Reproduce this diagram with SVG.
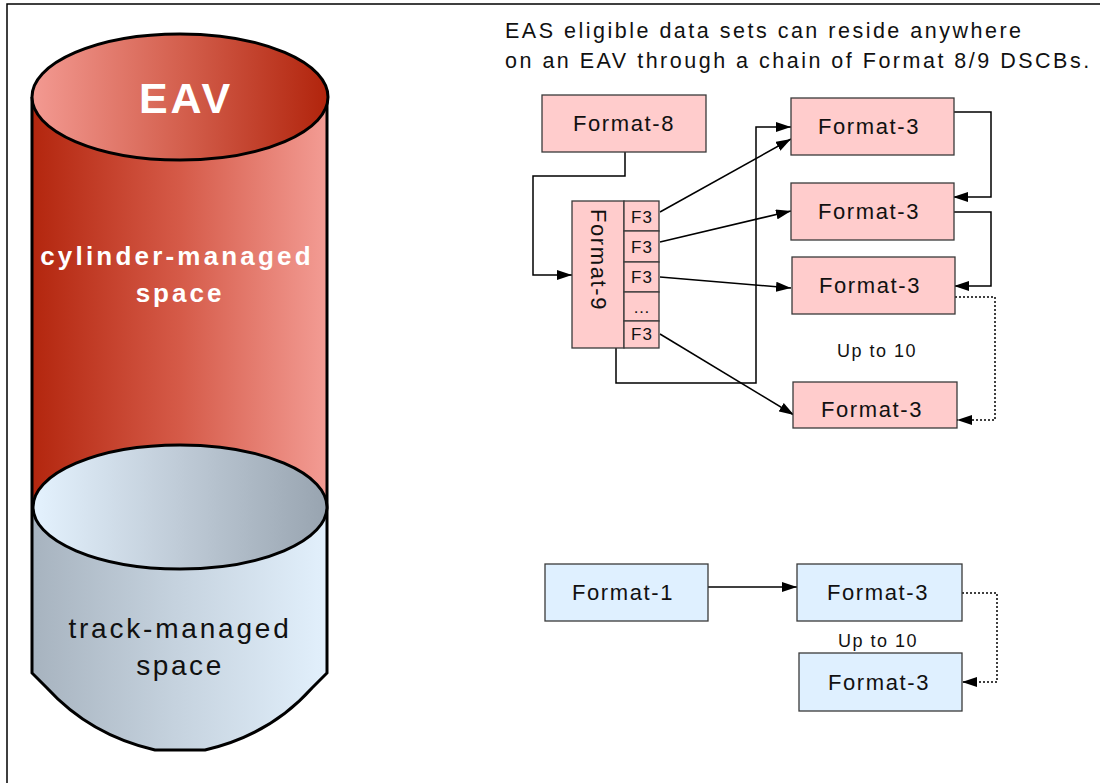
<svg xmlns="http://www.w3.org/2000/svg" width="1100" height="783" viewBox="0 0 1100 783">
<defs>
<linearGradient id="redBody" x1="0" y1="0" x2="1" y2="0">
<stop offset="0" stop-color="#b3260e"/><stop offset="0.5" stop-color="#d55a48"/><stop offset="1" stop-color="#f39c94"/>
</linearGradient>
<linearGradient id="redTop" x1="0" y1="0" x2="1" y2="0">
<stop offset="0" stop-color="#f39a92"/><stop offset="0.5" stop-color="#d4604e"/><stop offset="1" stop-color="#b1240c"/>
</linearGradient>
<linearGradient id="grayBody" x1="0" y1="0" x2="1" y2="0">
<stop offset="0" stop-color="#a7b3bf"/><stop offset="0.5" stop-color="#c6d3df"/><stop offset="1" stop-color="#e2f0fc"/>
</linearGradient>
<linearGradient id="grayTop" x1="0" y1="0" x2="1" y2="0">
<stop offset="0" stop-color="#e4f2fe"/><stop offset="0.5" stop-color="#bfcbd7"/><stop offset="1" stop-color="#98a4b0"/>
</linearGradient>
<marker id="arr" markerUnits="userSpaceOnUse" markerWidth="16" markerHeight="10" refX="15" refY="5" orient="auto">
<path d="M0,0 L15,5 L0,10 Z" fill="#000"/>
</marker>
<style>
.pink{fill:#ffcccc;stroke:#3a3a3a;stroke-width:1.3}
.blue{fill:#dff0ff;stroke:#3a3a3a;stroke-width:1.3}
.lbl{font-family:"Liberation Sans",Arial,sans-serif;font-size:22px;letter-spacing:1.6px;fill:#111;text-anchor:middle}
.f3{font-family:"Liberation Sans",Arial,sans-serif;font-size:17px;letter-spacing:1px;fill:#111;text-anchor:middle}
.up{font-family:"Liberation Sans",Arial,sans-serif;font-size:18px;letter-spacing:1.5px;fill:#111;text-anchor:middle}
.con{fill:none;stroke:#000;stroke-width:1.5}
.dot{fill:none;stroke:#000;stroke-width:1.5;stroke-dasharray:2,2}
</style>
</defs>
<rect width="1100" height="783" fill="#fff"/>
<path d="M7,783 L7,4 L1100,4" fill="none" stroke="#000" stroke-width="1.5"/>

<g id="cylinder">
<rect x="32" y="97" width="295" height="410" fill="url(#redBody)"/>
<path d="M32,507 L32,673 L47,688 Q90,735 155,750 L205,750 Q270,735 312,688 L327,673 L327,507 Z" fill="url(#grayBody)"/>
<path d="M32,507 L32,673 L47,688 Q90,735 155,750 L205,750 Q270,735 312,688 L327,673 L327,507" fill="none" stroke="#000" stroke-width="3"/>
<path d="M32,97 L32,507 M327,97 L327,507" stroke="#000" stroke-width="3"/>
<ellipse cx="180" cy="97" rx="148" ry="63" fill="url(#redTop)" stroke="#000" stroke-width="3"/>
<ellipse cx="180" cy="507" rx="147" ry="62" fill="url(#grayTop)" stroke="#000" stroke-width="3"/>
<text x="186" y="113" font-family="Liberation Sans,Arial,sans-serif" font-size="43" font-weight="bold" letter-spacing="3" fill="#fff" text-anchor="middle">EAV</text>
<text x="177" y="265" font-family="Liberation Sans,Arial,sans-serif" font-size="26" font-weight="bold" letter-spacing="3.2" fill="#fff" text-anchor="middle">cylinder-managed</text>
<text x="180" y="302" font-family="Liberation Sans,Arial,sans-serif" font-size="26" font-weight="bold" letter-spacing="3" fill="#fff" text-anchor="middle">space</text>
<text x="180" y="638" font-family="Liberation Sans,Arial,sans-serif" font-size="28" letter-spacing="2.8" fill="#111" text-anchor="middle">track-managed</text>
<text x="180" y="675" font-family="Liberation Sans,Arial,sans-serif" font-size="28" letter-spacing="2.6" fill="#111" text-anchor="middle">space</text>
</g>

<g id="heading" font-family="Liberation Sans,Arial,sans-serif" font-size="21.5" letter-spacing="2.5" fill="#111">
<text x="505" y="38">EAS eligible data sets can reside anywhere</text>
<text x="505" y="68">on an EAV through a chain of Format 8/9 DSCBs.</text>
</g>

<g id="connectors">
<path class="con" d="M625,152 L625,176 L533,176 L533,275 L572,275" marker-end="url(#arr)"/>
<path class="con" d="M616,348 L616,383 L756,383 L756,127 L791,127" marker-end="url(#arr)"/>
<path class="con" d="M660,212 L791,139" marker-end="url(#arr)"/>
<path class="con" d="M660,242 L791,211" marker-end="url(#arr)"/>
<path class="con" d="M660,277 L791,288" marker-end="url(#arr)"/>
<path class="con" d="M660,334 L794,415" marker-end="url(#arr)"/>
<path class="con" d="M954,112 L991,112 L991,197 L953,197" marker-end="url(#arr)"/>
<path class="con" d="M954,212 L991,212 L991,286 L954,286" marker-end="url(#arr)"/>
<path class="dot" d="M955,297 L995,297 L995,420 L957,420" marker-end="url(#arr)"/>
<path class="con" d="M708,587 L797,587" marker-end="url(#arr)"/>
<path class="dot" d="M962,593 L997,593 L997,682 L962,682" marker-end="url(#arr)"/>
</g>

<g id="format8"><rect class="pink" x="542" y="95" width="164" height="57"/><text class="lbl" x="624" y="131">Format-8</text></g>
<g id="format9">
<rect class="pink" x="572" y="201" width="52" height="147"/>
<text class="lbl" transform="translate(591,260) rotate(90)" x="0" y="0">Format-9</text>
<rect class="pink" x="624" y="201" width="35" height="30"/><text class="f3" x="642" y="223">F3</text>
<rect class="pink" x="624" y="231" width="35" height="31"/><text class="f3" x="642" y="253">F3</text>
<rect class="pink" x="624" y="262" width="35" height="30"/><text class="f3" x="642" y="283">F3</text>
<rect class="pink" x="624" y="292" width="35" height="29"/><text class="f3" x="642" y="313">…</text>
<rect class="pink" x="624" y="321" width="35" height="27"/><text class="f3" x="642" y="340">F3</text>
</g>
<g id="f3a"><rect class="pink" x="791" y="98" width="163" height="57"/><text class="lbl" x="869" y="134">Format-3</text></g>
<g id="f3b"><rect class="pink" x="791" y="183" width="163" height="57"/><text class="lbl" x="869" y="219">Format-3</text></g>
<g id="f3c"><rect class="pink" x="792" y="257" width="163" height="57"/><text class="lbl" x="870" y="293">Format-3</text></g>
<text class="up" x="877" y="357">Up to 10</text>
<g id="f3d"><rect class="pink" x="793" y="382" width="164" height="46"/><text class="lbl" x="872" y="417">Format-3</text></g>

<g id="format1"><rect class="blue" x="545" y="564" width="163" height="57"/><text class="lbl" x="623" y="600">Format-1</text></g>
<g id="f3e"><rect class="blue" x="797" y="564" width="165" height="57"/><text class="lbl" x="878" y="600">Format-3</text></g>
<text class="up" x="878" y="647">Up to 10</text>
<g id="f3f"><rect class="blue" x="799" y="653" width="163" height="58"/><text class="lbl" x="879" y="690">Format-3</text></g>
</svg>
